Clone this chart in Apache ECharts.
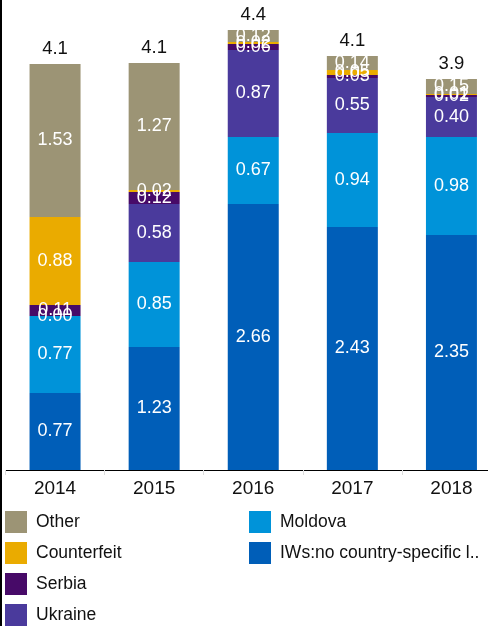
<!DOCTYPE html>
<html>
<head>
<meta charset="utf-8">
<script src="https://cdn.jsdelivr.net/npm/echarts@6/dist/echarts.min.js"></script>
<style>
  html, body { margin: 0; padding: 0; background: #fff; overflow: hidden; }
  #main { width: 488px; height: 626px; }
  #edge { position: absolute; left: 0; top: 0; width: 2px; height: 626px; background: #000; z-index: 10; }
</style>
</head>
<body>
<div id="edge"></div>
<div id="main"></div>
<script>
var years = ['2014', '2015', '2016', '2017', '2018'];
var iws = [0.77, 1.23, 2.66, 2.43, 2.35];
var moldova = [0.77, 0.85, 0.67, 0.94, 0.98];
var ukraine = [0.00, 0.58, 0.87, 0.55, 0.40];
var serbia = [0.11, 0.12, 0.06, 0.03, 0.02];
var counterfeit = [0.88, 0.02, 0.02, 0.05, 0.01];
var other = [1.53, 1.27, 0.12, 0.14, 0.15];
var totals = [4.1, 4.1, 4.4, 4.1, 3.9];

var FONT = '"Liberation Sans", Arial, sans-serif';
var IWS_NAME = 'IWs:no country-specific l..';

var chartDom = document.getElementById('main');
var myChart = echarts.init(chartDom);

function seg(name, data, color) {
  return {
    name: name,
    type: 'bar',
    stack: 'all',
    barWidth: 51,
    data: data,
    itemStyle: { color: color },
    label: {
      show: true,
      position: 'inside',
      color: '#fff',
      fontSize: 18,
      fontFamily: FONT,
      formatter: function (p) { return p.value.toFixed(2); }
    }
  };
}

var legendText = { color: '#111', fontSize: 17.5, fontFamily: FONT, padding: [0, 0, 0, 4] };

var option = {
  animation: false,
  grid: { left: 5.5, width: 495.5, top: 30, bottom: 156, containLabel: false, outerBoundsMode: 'none' },
  legend: [
    {
      orient: 'vertical', left: 5, top: 511, height: 140, padding: 0, itemWidth: 22, itemHeight: 22, itemGap: 9,
      icon: 'rect', textStyle: legendText,
      data: ['Other', 'Counterfeit', 'Serbia', 'Ukraine']
    },
    {
      orient: 'vertical', left: 249, top: 511, height: 140, padding: 0, itemWidth: 22, itemHeight: 22, itemGap: 9,
      icon: 'rect', textStyle: legendText,
      data: ['Moldova', IWS_NAME]
    }
  ],
  xAxis: {
    type: 'category',
    data: years,
    axisLine: { lineStyle: { color: '#000', width: 1 } },
    axisTick: { show: true, length: 5, lineStyle: { color: '#ddd' } },
    axisLabel: { color: '#111', fontSize: 19, fontFamily: FONT, margin: 9 }
  },
  yAxis: {
    type: 'value', min: 0, max: 4.4, show: false,
    splitLine: { show: false }
  },
  series: [
    seg(IWS_NAME, iws, '#005EB8'),
    seg('Moldova', moldova, '#0093D9'),
    seg('Ukraine', ukraine, '#4A3A9C'),
    seg('Serbia', serbia, '#470A68'),
    seg('Counterfeit', counterfeit, '#EAAB00'),
    seg('Other', other, '#9C9475'),
    {
      name: 'Total',
      type: 'bar',
      stack: 'all',
      barWidth: 51,
      data: years.map(function () { return 0; }),
      label: {
        show: true,
        position: 'top',
        distance: 6,
        color: '#111',
        fontSize: 18.5,
        fontFamily: FONT,
        formatter: function (p) { return totals[p.dataIndex].toFixed(1); }
      }
    }
  ]
};

myChart.setOption(option);
window.addEventListener('resize', myChart.resize);
</script>
</body>
</html>
